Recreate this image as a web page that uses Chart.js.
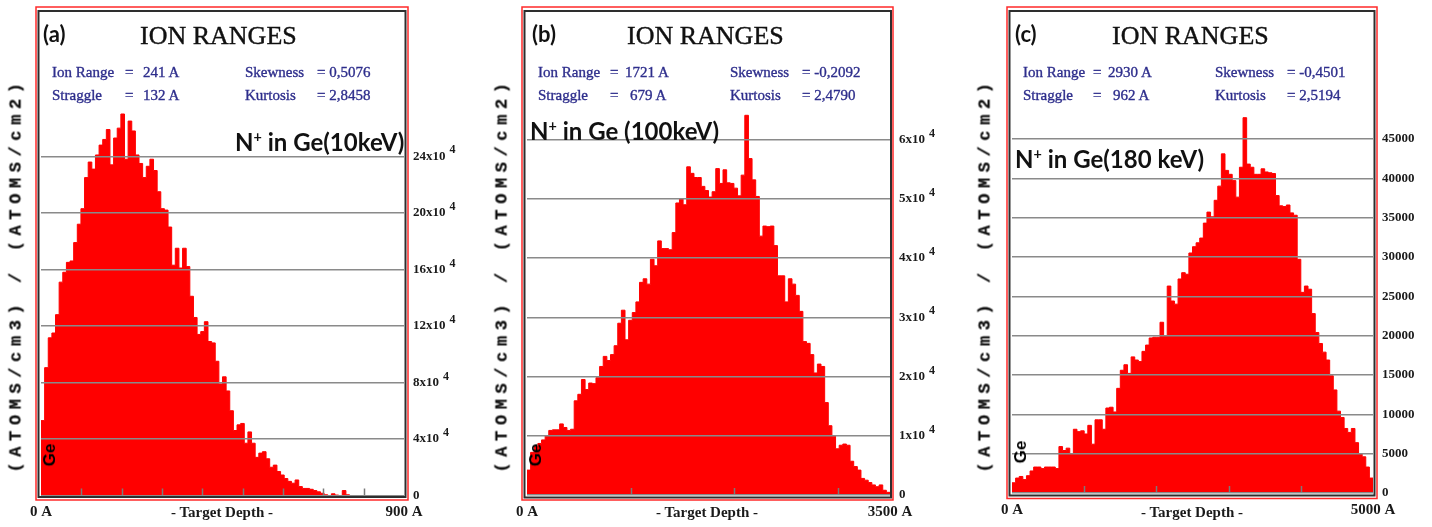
<!DOCTYPE html>
<html>
<head>
<meta charset="utf-8">
<script src="https://cdn.jsdelivr.net/npm/chart.js@4.4.1/dist/chart.umd.min.js"></script>
<style>
  html, body { margin: 0; padding: 0; background: #fff; }
  #page { position: relative; width: 1432px; height: 527px; overflow: hidden; }
  canvas { position: absolute; top: 0; }
  .t { position: absolute; white-space: nowrap; line-height: 1; }
  .tag { font: bold 22px Lato, sans-serif; color: #111; }
  .head { font: 26px "Liberation Serif", serif; color: #111; -webkit-text-stroke: 0.4px #111; }
  .stat { font: 15px "Liberation Serif", serif; color: #2e2e8c; -webkit-text-stroke: 0.35px #2e2e8c; }
  .ion { font: bold 24px Lato, sans-serif; color: #111; }
  .ion sup { font-size: 0.6em; vertical-align: 0.6em; line-height: 0; }
  .ge { font: bold 17px "Liberation Sans", sans-serif; color: #000; transform: translate(-50%, -50%) rotate(-90deg); }
  .ytitle { font: bold 17px "Liberation Mono", monospace; letter-spacing: 5.6px; color: #111; -webkit-text-stroke: 0.3px #111; transform: translate(-50%, -50%) rotate(-90deg); }
  .xtitle { font: bold 15px "Liberation Serif", serif; color: #1a1a1a; transform: translateX(-50%); }
</style>
</head>
<body>
<div id="page">
  <canvas id="histA" width="480" height="527" style="left:0"></canvas>
  <canvas id="histB" width="480" height="527" style="left:480px"></canvas>
  <canvas id="histC" width="472" height="527" style="left:960px"></canvas>

  <!-- panel (a) -->
  <div class="t ytitle" style="left:16px; top:275px">(ATOMS/cm3) / (ATOMS/cm2)</div>
  <div class="t tag" style="left:43px; top:20px">(a)</div>
  <div class="t head" style="left:140px; top:21px">ION RANGES</div>
  <div class="t stat" style="left:52px; top:64px">Ion Range</div>
  <div class="t stat" style="left:125px; top:64px">=</div>
  <div class="t stat" style="left:143px; top:64px">241 A</div>
  <div class="t stat" style="left:52px; top:87px">Straggle</div>
  <div class="t stat" style="left:125px; top:87px">=</div>
  <div class="t stat" style="left:143px; top:87px">132 A</div>
  <div class="t stat" style="left:245px; top:64px">Skewness</div>
  <div class="t stat" style="left:317px; top:64px">= 0,5076</div>
  <div class="t stat" style="left:245px; top:87px">Kurtosis</div>
  <div class="t stat" style="left:317px; top:87px">= 2,8458</div>
  <div class="t ion" style="left:235px; top:127px">N<sup>+</sup> in Ge(10keV)</div>
  <div class="t ge" style="left:50px; top:455px">Ge</div>
  <div class="t xtitle" style="left:222px; top:504px">- Target Depth -</div>

  <!-- panel (b) -->
  <div class="t ytitle" style="left:502px; top:275px">(ATOMS/cm3) / (ATOMS/cm2)</div>
  <div class="t tag" style="left:532px; top:20px">(b)</div>
  <div class="t head" style="left:627px; top:21px">ION RANGES</div>
  <div class="t stat" style="left:538px; top:64px">Ion Range</div>
  <div class="t stat" style="left:610px; top:64px">=</div>
  <div class="t stat" style="left:625px; top:64px">1721 A</div>
  <div class="t stat" style="left:538px; top:87px">Straggle</div>
  <div class="t stat" style="left:610px; top:87px">=</div>
  <div class="t stat" style="left:630px; top:87px">679 A</div>
  <div class="t stat" style="left:730px; top:64px">Skewness</div>
  <div class="t stat" style="left:802px; top:64px">= -0,2092</div>
  <div class="t stat" style="left:730px; top:87px">Kurtosis</div>
  <div class="t stat" style="left:802px; top:87px">= 2,4790</div>
  <div class="t ion" style="left:530px; top:116px">N<sup>+</sup> in Ge (100keV)</div>
  <div class="t ge" style="left:536px; top:455px">Ge</div>
  <div class="t xtitle" style="left:707px; top:504px">- Target Depth -</div>

  <!-- panel (c) -->
  <div class="t ytitle" style="left:985px; top:275px">(ATOMS/cm3) / (ATOMS/cm2)</div>
  <div class="t tag" style="left:1015px; top:20px">(c)</div>
  <div class="t head" style="left:1112px; top:21px">ION RANGES</div>
  <div class="t stat" style="left:1023px; top:64px">Ion Range</div>
  <div class="t stat" style="left:1093px; top:64px">=</div>
  <div class="t stat" style="left:1108px; top:64px">2930 A</div>
  <div class="t stat" style="left:1023px; top:87px">Straggle</div>
  <div class="t stat" style="left:1093px; top:87px">=</div>
  <div class="t stat" style="left:1113px; top:87px">962 A</div>
  <div class="t stat" style="left:1215px; top:64px">Skewness</div>
  <div class="t stat" style="left:1287px; top:64px">= -0,4501</div>
  <div class="t stat" style="left:1215px; top:87px">Kurtosis</div>
  <div class="t stat" style="left:1287px; top:87px">= 2,5194</div>
  <div class="t ion" style="left:1015px; top:144px">N<sup>+</sup> in Ge(180 keV)</div>
  <div class="t ge" style="left:1021px; top:452px">Ge</div>
  <div class="t xtitle" style="left:1192px; top:504px">- Target Depth -</div>
</div>

<script>
// N+ in Ge depth histograms, 100 equal depth bins per profile
const binsA = [
  53000, 90500, 111600, 115000, 128000, 151000, 158000, 165000, 166000, 179000,
  192000, 203000, 225000, 236000, 231000, 241000, 248000, 252000, 259000, 234000,
  253000, 260000, 270000, 238000, 265000, 258000, 241000, 235000, 225000, 233000,
  238000, 230000, 215000, 203000, 202000, 190000, 163000, 175000, 161000, 175000,
  162000, 141000, 126000, 114000, 116000, 123000, 109000, 108000, 95000, 79000,
  84000, 74000, 60000, 46000, 50000, 51000, 37000, 45000, 37000, 27000,
  30000, 31000, 26000, 20000, 21500, 17000, 14500, 12000, 10000, 8700,
  11000, 6300, 5000, 5000, 4400, 3500, 2600, 1600, 500, 0,
  1200, 300, 0, 3500, 500, 0, 0, 0, 0, 0,
  0, 0, 0, 0, 0, 0, 0, 0, 0, 0
];
const binsB = [
  4200, 7200, 8200, 8700, 9300, 10000, 10900, 11000, 11000, 12000,
  11400, 10900, 11100, 15900, 17000, 19500, 17800, 18900, 18800, 19800,
  21700, 23400, 22700, 23700, 25200, 29000, 31200, 26200, 29500, 30800,
  32600, 35900, 36500, 35600, 39800, 38700, 42900, 41600, 41600, 41400,
  44300, 49300, 50000, 49000, 55400, 54300, 53600, 53600, 52100, 51400,
  50300, 51200, 55100, 52600, 54900, 52700, 52600, 51800, 50500, 54000,
  64100, 56800, 53200, 50400, 43700, 45400, 45300, 45400, 42100, 37000,
  37000, 32600, 36500, 35600, 33700, 31000, 25900, 25600, 23700, 20600,
  22100, 21700, 15600, 11700, 10000, 7800, 8400, 8600, 8400, 5700,
  4800, 4200, 2800, 2500, 2100, 1700, 1400, 1700, 800, 450
];
const binsC = [
  1300, 1900, 2100, 1700, 2200, 2800, 3300, 3300, 3100, 3300,
  3300, 3300, 3100, 5900, 5400, 5700, 5000, 8100, 7800, 7900,
  7500, 8600, 6200, 9300, 9300, 8100, 10800, 10900, 10300, 13300,
  15600, 16300, 15200, 17300, 16900, 16700, 18000, 18800, 19700, 19800,
  19800, 21700, 20000, 26300, 24400, 24000, 27200, 28000, 27800, 30500,
  31300, 31800, 32400, 34300, 35700, 35100, 37200, 39000, 43100, 41000,
  40500, 39700, 37600, 41400, 47700, 41800, 41400, 40500, 40500, 41200,
  40800, 40700, 40600, 37800, 36500, 36400, 36600, 35600, 35300, 29700,
  25500, 26300, 25900, 22800, 20400, 19000, 17900, 16900, 14900, 13100,
  10400, 9600, 8200, 7700, 8200, 6400, 5000, 4600, 3300, 1900
];

// depth ranges and axis ticks (Angstrom)
const depthRangeA = [0, 900];
const depthRangeB = [0, 3500];
const depthRangeC = [0, 5000];
const depthTicksA = [0, 100, 200, 300, 400, 500, 600, 700, 800, 900];
const depthTicksB = [0, 1000, 2000, 3000, 3500];
const depthTicksC = [0, 1000, 2000, 3000, 4000, 5000];

// concentration ticks
const concTicksA = [0, 40000, 80000, 120000, 160000, 200000, 240000];
const concTicksB = [0, 10000, 20000, 30000, 40000, 50000, 60000];
const concTicksC = [0, 5000, 10000, 15000, 20000, 25000, 30000, 35000, 40000, 45000];

const tickFont = { family: 'Liberation Serif', size: 13, weight: 'bold' };

// bin left edges as x, one closing point so the last bin gets its full width
function histPoints(bins, range) {
  const w = (range[1] - range[0]) / bins.length;
  const pts = bins.map((v, i) => ({ x: range[0] + i * w, y: v }));
  pts.push({ x: range[1], y: bins[bins.length - 1] });
  return pts;
}

const panelDecor = {
  id: 'panelDecor',
  afterDatasetsDraw(chart, args, o) {
    // small inward tick marks on the depth axis
    const { ctx, chartArea } = chart;
    const xs = chart.scales.x;
    ctx.save();
    ctx.strokeStyle = '#7a7a7a';
    ctx.lineWidth = 1.5;
    xs.ticks.slice(1, -1).forEach(t => {
      const px = Math.round(xs.getPixelForValue(t.value)) + 0.5;
      ctx.beginPath();
      ctx.moveTo(px, chartArea.bottom);
      ctx.lineTo(px, chartArea.bottom - 7);
      ctx.stroke();
    });
    ctx.restore();
  },
  afterDraw(chart, args, o) {
    const ctx = chart.ctx;
    ctx.save();
    ctx.strokeStyle = '#ff2a2a';
    ctx.lineWidth = 1.5;
    let [x1, y1, x2, y2] = o.outer;
    ctx.strokeRect(x1, y1, x2 - x1, y2 - y1);
    ctx.strokeStyle = '#2e2e2e';
    ctx.lineWidth = 2;
    [x1, y1, x2, y2] = o.inner;
    ctx.strokeRect(x1, y1, x2 - x1, y2 - y1);

    // x10^4 exponent after the concentration labels
    if (o.exponent) {
      const ys = chart.scales.y;
      ys.ticks.forEach(t => {
        if (t.value === 0) return;
        ctx.font = 'bold 13px "Liberation Serif"';
        const w = ctx.measureText(t.label).width;
        ctx.font = 'bold 12px "Liberation Serif"';
        ctx.fillStyle = '#1a1a1a';
        ctx.textBaseline = 'middle';
        ctx.fillText(o.exponent, ys.left + 9 + w + 4, ys.getPixelForValue(t.value) - 6);
      });
    }
    ctx.restore();
  }
};

function makePanel(id, bins, range, depthTicks, concTicks, cfg) {
  const off = cfg.canvasLeft;
  const shift = r => [r[0] - off, r[1], r[2] - off, r[3]];
  return new Chart(document.getElementById(id), {
    type: 'line',
    data: {
      datasets: [{
        data: histPoints(bins, range),
        stepped: 'before',
        fill: 'origin',
        backgroundColor: '#ff0000',
        borderColor: '#ff0000',
        borderWidth: 1,
        pointRadius: 0
      }]
    },
    options: {
      responsive: false,
      animation: false,
      devicePixelRatio: 1,
      layout: { padding: { left: cfg.plotLeft - off, top: 12, right: 0, bottom: 0 } },
      plugins: {
        legend: { display: false },
        tooltip: { enabled: false },
        panelDecor: { outer: shift(cfg.outer), inner: shift(cfg.inner), exponent: cfg.exponent }
      },
      scales: {
        x: {
          type: 'linear',
          min: range[0],
          max: range[1],
          afterBuildTicks: s => { s.ticks = depthTicks.map(v => ({ value: v })); },
          afterFit: s => { s.height = cfg.xAxisH; },
          grid: { display: false, drawTicks: false },
          border: { display: false },
          ticks: {
            autoSkip: false,
            maxRotation: 0,
            padding: 8,
            color: '#1a1a1a',
            font: { family: 'Liberation Serif', size: 15, weight: 'bold' },
            callback: v => (v === range[0] || v === range[1]) ? v + ' A' : ''
          }
        },
        y: {
          position: 'right',
          min: 0,
          max: cfg.yMax,
          afterBuildTicks: s => { s.ticks = concTicks.map(v => ({ value: v })); },
          afterFit: s => { s.width = cfg.yAxisW; },
          grid: { color: '#8a8a8a', lineWidth: 1.5, drawTicks: false, z: 1 },
          border: { display: false },
          ticks: {
            padding: 9,
            color: '#1a1a1a',
            font: tickFont,
            callback: v => v === 0 ? '0' : (cfg.exponent ? (v / 10000) + 'x10' : String(v))
          }
        }
      }
    },
    plugins: [panelDecor]
  });
}

makePanel('histA', binsA, depthRangeA, depthTicksA, concTicksA, {
  canvasLeft: 0, plotLeft: 41, yAxisW: 76, xAxisH: 31.5, yMax: 338800, exponent: '4',
  outer: [36, 7, 408, 500], inner: [38.5, 11, 405.5, 497]
});
makePanel('histB', binsB, depthRangeB, depthTicksB, concTicksB, {
  canvasLeft: 480, plotLeft: 527, yAxisW: 70, xAxisH: 32, yMax: 80730, exponent: '4',
  outer: [522, 7, 893, 500], inner: [524.5, 11, 891, 497.5]
});
makePanel('histC', binsC, depthRangeC, depthTicksC, concTicksC, {
  canvasLeft: 960, plotLeft: 1012, yAxisW: 59, xAxisH: 34, yMax: 60520, exponent: '',
  outer: [1007, 7, 1377, 498.5], inner: [1009.5, 11, 1374.5, 495.5]
});
</script>
</body>
</html>
